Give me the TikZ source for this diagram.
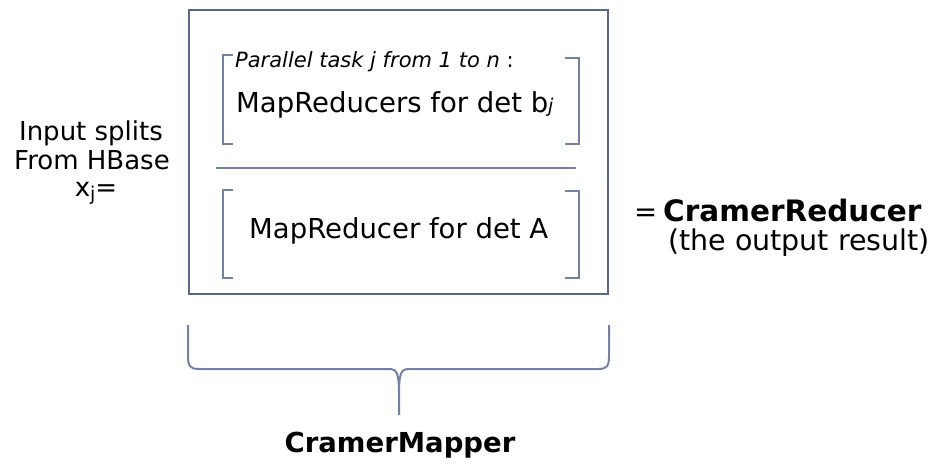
\documentclass[tikz,border=0pt]{standalone}
\usepackage{fontspec}
\setmainfont{DejaVu Sans}
\definecolor{framecol}{RGB}{90,102,142}
\definecolor{brackcol}{RGB}{116,128,168}
\begin{document}
\begin{tikzpicture}[x=1pt,y=-1pt,
  txt/.style={inner sep=0pt, font=\fontsize{27.5}{33}\selectfont},
  sidetxt/.style={inner sep=0pt, font=\fontsize{26}{31}\selectfont},
  boldtxt/.style={inner sep=0pt, font=\fontsize{27.5}{33}\selectfont\bfseries},
  smalltxt/.style={inner sep=0pt, font=\fontsize{21}{25}\selectfont\itshape},
  frameline/.style={draw=framecol, line width=2.6pt},
  brackline/.style={draw=brackcol, line width=1.6pt},
  braceline/.style={draw=brackcol, line width=2pt, line join=round}]
\useasboundingbox (0,0) rectangle (941,464);

% outer frame holding both map-reduce stages
\node[frameline, minimum width=419pt, minimum height=284pt, inner sep=0pt] (frame) at (398.5,152) {};

% input description on the left
\node[sidetxt, anchor=base] (insplit) at (91,140) {Input splits};
\node[sidetxt, anchor=base] (inhbase) at (92,169) {From HBase};
\node[sidetxt, anchor=base] (xj) at (96,196) {x\raisebox{-4pt}{\fontsize{19}{19}\selectfont j}=};

% upper stage: parallel tasks for det b_j
\draw[brackline] (233,55) -- (223,55) -- (223,144) -- (233,144);
\draw[brackline] (565,58) -- (579,58) -- (579,144) -- (565,144);
\node[smalltxt, anchor=base west] (partask) at (235,67) {Parallel task j from 1 to n\upshape\ :};
\node[txt, anchor=base west] (detb) at (236,112) {MapReducers for det b{\itshape\fontsize{19}{19}\selectfont j}};

% separator between the stages
\coordinate (sepl) at (216,168);
\coordinate (sepr) at (576,168);
\draw[brackline] (sepl) -- (sepr);

% lower stage: det A
\draw[brackline] (233,190) -- (223,190) -- (223,278) -- (233,278);
\draw[brackline] (565,191) -- (579,191) -- (579,278) -- (565,278);
\node[txt, anchor=base west] (deta) at (249,238) {MapReducer for det A};

% result on the right
\node[txt, anchor=base west] (eq) at (634,221) {=};
\node[boldtxt, anchor=base west] (reducer) at (663,221) {\fontsize{29.5}{33}\selectfont CramerReducer};
\node[txt, anchor=base west] (result) at (668,250) {\fontsize{28.5}{33}\selectfont (the output result)};

% brace under the frame
\coordinate (bl) at (188,325);
\coordinate (br) at (609,325);
\coordinate (tip) at (399,415);
\draw[braceline] (bl) -- (188,356) .. controls (188,366) and (190,369) .. (199,369)
  -- (391,369) .. controls (397,369) and (399,376) .. (399,392) -- (tip);
\draw[braceline] (br) -- (609,356) .. controls (609,366) and (607,369) .. (598,369)
  -- (407,369) .. controls (401,369) and (399,376) .. (399,392);
\node[boldtxt, anchor=base] (mapper) at (400,452) {CramerMapper};
\end{tikzpicture}
\end{document}
